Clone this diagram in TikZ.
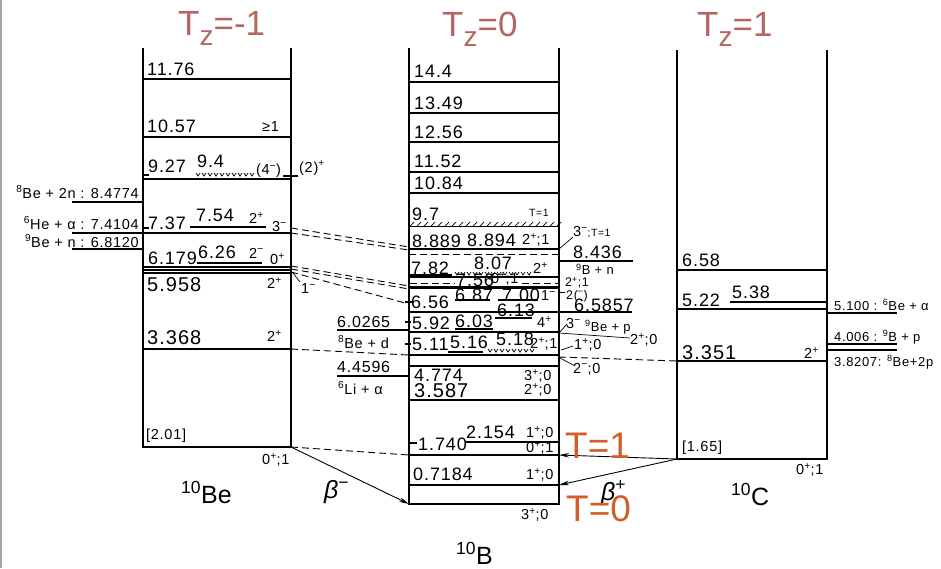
\documentclass[tikz,border=0pt]{standalone}
\usepackage{fontspec}
\setmainfont{Liberation Sans}
\newfontfamily\lsf[LetterSpace=5]{Liberation Sans}
\usetikzlibrary{arrows.meta}
\definecolor{tzc}{RGB}{181,102,96}
\definecolor{tc}{RGB}{212,92,40}
\newcommand\lv[3]{\draw[lvl] (#1,#3) -- (#2,#3);}
\newcommand\hatchb[3]{\draw[hatch] (#1,#3) -- (#2,#3);
  \pgfmathsetmacro\hxb{#1+7}\foreach \hx in {#1,\hxb,...,#2}{\draw[hatch] (\hx,#3) -- ++(4,-4);}}
\newcommand\hatchn[3]{\pgfmathsetmacro\hxb{#1+6}\foreach \hx in {#1,\hxb,...,#2}{\draw[hatch] (\hx,#3) -- ++(2,3) -- ++(2,-3);}}
\newcommand\sps[1]{\textsuperscript{#1}}
\begin{document}
\begin{tikzpicture}[x=1pt,y=-1pt,
 col/.style={line width=1.6pt},
 lvl/.style={line width=1.1pt},
 hatch/.style={line width=0.7pt},
 dsh/.style={line width=0.9pt,dash pattern=on 7pt off 4pt},
 ldr/.style={line width=0.7pt},
 num/.style={inner sep=0pt,anchor=west,font=\lsf\fontsize{18}{18}\selectfont},
 mid/.style={inner sep=0pt,anchor=west,font=\lsf\fontsize{16}{16}\selectfont},
 big/.style={inner sep=0pt,anchor=west,font=\lsf\fontsize{20}{20}\selectfont},
 sm/.style={inner sep=0pt,anchor=west,font=\lsf\fontsize{14.5}{14.5}\selectfont},
 rsm/.style={inner sep=0pt,anchor=west,font=\lsf\fontsize{12.5}{12.5}\selectfont},
 tiny/.style={inner sep=0pt,anchor=west,font=\lsf\fontsize{10.5}{10.5}\selectfont},
 lab/.style={inner sep=0pt,anchor=west,font=\lsf\fontsize{14.5}{14.5}\selectfont},
 rlab/.style={inner sep=0pt,anchor=west,font=\lsf\fontsize{13}{13}\selectfont},
 nuc/.style={inner sep=0pt,anchor=base west,font=\fontsize{25}{25}\selectfont},
 tz/.style={inner sep=0pt,anchor=base west,text=tzc,font=\fontsize{35}{35}\selectfont},
 tt/.style={inner sep=0pt,anchor=base west,text=tc,font=\fontsize{37}{37}\selectfont},
 arr/.style={line width=0.9pt,-{Stealth[length=10pt,width=4.5pt]}},
]
\useasboundingbox (0,0) rectangle (941,568);
\fill[white] (0,0) rectangle (941,568);
\draw[gray!70,line width=2.5pt] (1.2,0) -- (1.2,568);

% ---------- isospin labels
\node[tz] (tzm) at (178,35) {T\raisebox{-10pt}{\fontsize{28}{28}\selectfont z}=-1};
\node[tz] (tz0) at (442,36) {T\raisebox{-10pt}{\fontsize{28}{28}\selectfont z}=0};
\node[tz] (tzp) at (697,36) {T\raisebox{-10pt}{\fontsize{28}{28}\selectfont z}=1};

% ---------- columns
\coordinate (BeTL) at (143,48); \coordinate (BeG0) at (143,447);
\coordinate (BeG) at (291,447); \coordinate (BeTR) at (291,48);
\draw[col] (BeTL) -- (BeG0) -- (BeG) -- (BeTR);
\coordinate (BTL) at (409,48); \coordinate (BGL) at (409,504);
\coordinate (BGR) at (559,504); \coordinate (BTR) at (559,48);
\draw[col] (BTL) -- (BGL) -- (BGR) -- (BTR);
\coordinate (CTL) at (677,50); \coordinate (CG) at (677,459);
\coordinate (CGR) at (827,459); \coordinate (CTR) at (827,50);
\draw[col] (CTL) -- (CG) -- (CGR) -- (CTR);

% ---------- 10Be levels
\lv{143}{291}{79}
\lv{143}{291}{137}
\lv{143}{291}{179}
\lv{143}{149}{175}
\lv{283}{298}{176}
\hatchn{196}{252}{173}
\lv{143}{291}{233}
\lv{143}{149}{228}
\lv{190}{266}{227}
\lv{197}{262}{263}
\lv{143}{291}{267}
\lv{143}{291}{270}
\lv{143}{291}{273}
\lv{143}{291}{349}
\lv{72}{143}{202}
\lv{72}{143}{233}
\lv{72}{143}{249}
\draw[ldr] (293,273) -- (300,282);

\node[num] (a1) at (147,69) {11.76};
\node[num] (a2) at (147,126) {10.57};
\node[sm] (a3) at (262,127) {≥1};
\node[num] (a4) at (148,166) {9.27};
\node[num] (a5) at (197,161) {9.4};
\node[sm] (a6) at (256,171) {(4\sps{−})};
\node[sm] (a7) at (299,168) {(2)\sps{+}};
\node[num] (a8) at (148,223) {7.37};
\node[num] (a9) at (196,215) {7.54};
\node[sm] (a10) at (249,218) {2\sps{+}};
\node[sm] (a11) at (272,227) {3\sps{−}};
\node[num] (a12) at (148,258) {6.179};
\node[num] (a13) at (198,252) {6.26};
\node[sm] (a14) at (249,253) {2\sps{−}};
\node[sm] (a15) at (270,259) {0\sps{+}};
\node[big] (a16) at (147,285) {5.958};
\node[sm] (a17) at (267,283) {2\sps{+}};
\node[sm] (a18) at (301,289) {1\sps{−}};
\node[big] (a19) at (147,338) {3.368};
\node[sm] (a20) at (267,336) {2\sps{+}};
\node[lab] (a21) at (146,436) {[2.01]};
\node[sm] (a22) at (262,460) {0\sps{+};1};
\node[nuc] (a23) at (181,503) {\sps{10}Be};
\node[nuc] (a24) at (324,498) {\textit{β}\sps{−}};
\node[lab,anchor=east] (a25) at (139,192) {\sps{8}Be + 2n : 8.4774};
\node[lab,anchor=east] (a26) at (139,223) {\sps{6}He + α : 7.4104};
\node[lab,anchor=east] (a27) at (139,241) {\sps{9}Be + n : 6.8120};

% ---------- 10B levels
\lv{409}{559}{82}
\lv{409}{559}{113}
\lv{409}{559}{142}
\lv{409}{559}{172}
\lv{409}{559}{193}
\hatchb{410}{558}{226}
\draw[line width=2.2pt] (409,249) -- (559,249);
\draw[dsh] (409,254) -- (559,254);
\lv{410}{452}{275}
\hatchn{455}{528}{272}
\lv{409}{559}{277}
\draw[dsh] (410,283) -- (455,283);
\draw[dsh] (522,283) -- (559,283);
\draw[line width=3.6pt] (409,287.5) -- (559,287.5);
\lv{455}{490}{300}
\lv{498}{538}{300}
\lv{409}{632}{312}
\lv{495}{532}{318}
\lv{455}{493}{329}
\lv{409}{559}{332}
\draw[ldr] (559,333) -- (630,338);
\lv{448}{483}{352}
\hatchn{488}{530}{349}
\lv{409}{559}{355}
\lv{409}{559}{366}
\lv{409}{559}{400}
\lv{465}{559}{442}
\lv{409}{559}{455}
\lv{409}{559}{485}
\lv{405}{412}{302}
\lv{405}{411}{322}
\lv{405}{411}{344}
\lv{410}{417}{443}
\lv{559}{633}{261}
\lv{337}{409}{330}
\lv{337}{409}{376}
\draw[ldr] (559,249) -- (573,237);
\draw[ldr] (559,292) -- (565,292);
\draw[ldr] (560,332) -- (567,324);
\draw[ldr] (561,350) -- (573,346);
\draw[ldr] (560,358) -- (575,366);

\node[num] (b1) at (414,71) {14.4};
\node[num] (b2) at (414,103) {13.49};
\node[num] (b3) at (414,132) {12.56};
\node[num] (b4) at (414,161) {11.52};
\node[num] (b5) at (414,183) {10.84};
\node[num] (b6) at (412,214) {9.7};
\node[tiny] (b7) at (529,213) {T=1};
\node[num] (b8) at (412,241) {8.889};
\node[num] (b9) at (467,240) {8.894};
\node[sm] (b10) at (522,240) {2\sps{+};1};
\node[num] (b11) at (411,268) {7.82};
\node[num] (b12) at (474,263) {8.07};
\node[sm] (b13) at (533,268) {2\sps{+}};
\node[num] (b14) at (456,280) {7.56};
\node[sm] (b15) at (491,279) {0\sps{+};1};
\node[num] (b16) at (411,302) {6.56};
\node[num] (b17) at (455,295) {6.87};
\node[num] (b18) at (502,295) {7.00};
\node[sm] (b19) at (541,296) {1\sps{−}};
\node[num] (b20) at (412,323) {5.92};
\node[num] (b21) at (455,321) {6.03};
\node[num] (b22) at (497,310) {6.13};
\node[sm] (b23) at (537,322) {4\sps{+}};
\node[num] (b24) at (412,344) {5.11};
\node[num] (b25) at (450,342) {5.16};
\node[num] (b26) at (496,339) {5.18};
\node[sm] (b27) at (530,344) {2\sps{+};1};
\node[num] (b28) at (414,375) {4.774};
\node[sm] (b29) at (524,376) {3\sps{+};0};
\node[big] (b30) at (414,391) {3.587};
\node[sm] (b31) at (524,390) {2\sps{+};0};
\node[num] (b32) at (466,432) {2.154};
\node[sm] (b33) at (526,433) {1\sps{+};0};
\node[num] (b34) at (418,444) {1.740};
\node[sm] (b35) at (526,448) {0\sps{+};1};
\node[num] (b36) at (413,474) {0.7184};
\node[sm] (b37) at (526,475) {1\sps{+};0};
\node[sm] (b38) at (521,515) {3\sps{+};0};
\node[nuc] (b39) at (456,564) {\sps{10}B};

\node[sm] (c1) at (573,232) {3\sps{−}\fontsize{10.5}{10.5}\selectfont;T=1};
\node[num] (c2) at (573,252) {8.436};
\node[rlab] (c3) at (576,269) {\sps{9}B + n};
\node[rsm] (c4) at (565,283) {2\sps{+};1};
\node[rsm] (c5) at (566,296) {2(\sps{−})};
\node[num] (c6) at (574,305) {6.5857};
\node[sm] (c7) at (566,324) {3\sps{−}};
\node[rlab] (c8) at (585,327) {\sps{9}Be + p};
\node[sm] (c9) at (630,340) {2\sps{+};0};
\node[sm] (c10) at (574,345) {1\sps{+};0};
\node[sm] (c11) at (573,369) {2\sps{−};0};
\node[mid] (c12) at (337,322) {6.0265};
\node[lab] (c13) at (338,342) {\sps{8}Be + d};
\node[mid] (c14) at (337,367) {4.4596};
\node[lab] (c15) at (338,388) {\sps{6}Li + α};

% ---------- 10C levels
\lv{677}{827}{270}
\lv{730}{827}{302}
\lv{677}{827}{309}
\lv{677}{827}{361}
\lv{827}{897}{313}
\lv{827}{897}{344}
\lv{827}{897}{350}

\node[num] (d1) at (682,260) {6.58};
\node[num] (d2) at (682,300) {5.22};
\node[num] (d3) at (732,292) {5.38};
\node[big] (d4) at (682,353) {3.351};
\node[sm] (d5) at (804,353) {2\sps{+}};
\node[lab] (d6) at (682,448) {[1.65]};
\node[sm] (d7) at (796,470) {0\sps{+};1};
\node[nuc] (d8) at (731,505) {\sps{10}C};
\node[rlab] (d9) at (834,305) {5.100 : \sps{6}Be + α};
\node[rlab] (d10) at (834,337) {4.006 : \sps{9}B + p};
\node[rlab] (d11) at (834,362) {3.8207: \sps{8}Be+2p};
\node[nuc] (d12) at (601,500) {\textit{β}\sps{+}};

% ---------- transitions
\coordinate (Be737a) at (291,228); \coordinate (B889a) at (409,247);
\coordinate (Be737b) at (291,233); \coordinate (B889b) at (409,250);
\coordinate (Be618a) at (291,266); \coordinate (B756a) at (409,286);
\coordinate (Be618b) at (291,269); \coordinate (B756b) at (409,289);
\coordinate (Be596) at (291,272); \coordinate (B656) at (409,304);
\coordinate (Be3368) at (291,349); \coordinate (B511L) at (409,355);
\coordinate (B511R) at (559,357); \coordinate (C3351) at (677,361);
\coordinate (B1740L) at (409,455); \coordinate (B1740R) at (559,455);
\coordinate (B0718R) at (559,485);
\draw[dsh] (Be737a) -- (B889a);
\draw[dsh] (Be737b) -- (B889b);
\draw[dsh] (Be618a) -- (B756a);
\draw[dsh] (Be618b) -- (B756b);
\draw[dsh] (Be596) -- (B656);
\draw[dsh] (Be3368) -- (B511L);
\draw[dsh] (B511R) -- (C3351);
\draw[dsh] (BeG) -- (B1740L);
\draw[arr] (BeG) -- (BGL);
\draw[arr] (CG) -- (B1740R);
\draw[arr] (CG) -- (B0718R);

% ---------- isospin T labels
\node[tt] (T1) at (565,458) {T=1};
\node[tt] (T0) at (566,521) {T=0};
\end{tikzpicture}
\end{document}
